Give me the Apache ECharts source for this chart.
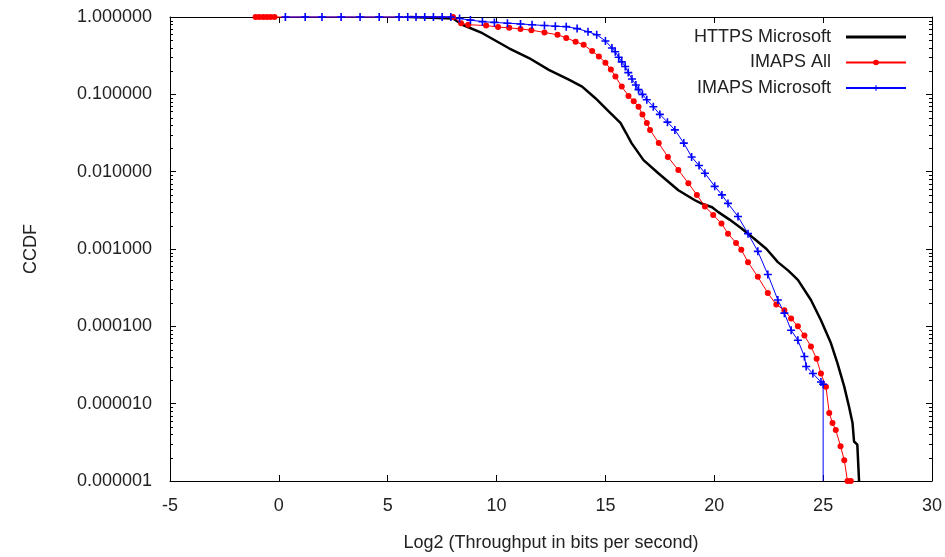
<!DOCTYPE html>
<html><head><meta charset="utf-8">
<script src="https://cdn.jsdelivr.net/npm/echarts@6/dist/echarts.min.js"></script>
<style>html,body{margin:0;padding:0;background:#fff}#c{width:945px;height:557px}</style>
</head><body><div id="c"></div>
<script>
// ---- data ----
const xMin = -5, xMax = 30, yMin = 1e-6, yMax = 1;
const xTickStep = 5;
const seriesNames = ['HTTPS Microsoft', 'IMAPS All', 'IMAPS Microsoft'];

const httpsX = [6.0, 8.0, 8.43, 9.35, 10.57, 11.49, 12.4, 13.32, 13.93, 14.54, 15.15, 15.69, 15.95, 16.2, 16.75, 17.43, 18.35, 19.11, 19.4, 19.9, 20.17, 20.7, 21.24, 21.85, 22.4, 22.92, 23.4, 23.84, 24.44, 24.9, 25.36, 25.66, 25.97, 26.19, 26.35, 26.42, 26.57, 26.65];
const httpsY = [1, 0.955, 0.794, 0.617, 0.394, 0.295, 0.207, 0.155, 0.126, 0.0891, 0.0603, 0.0427, 0.0316, 0.0234, 0.0141, 0.00955, 0.00575, 0.00427, 0.00389, 0.00347, 0.00302, 0.0024, 0.00186, 0.00135, 0.001, 0.000676, 0.000525, 0.000398, 0.000219, 0.00012, 0.0000603, 0.0000331, 0.0000166, 0.00000912, 0.00000562, 0.00000324, 0.00000295, 0.000001];

const imapsAllX = [-1.07, -0.9, -0.72, -0.55, -0.38, -0.2, 8.0, 8.37, 8.7, 9.52, 10.07, 10.58, 11.1, 11.6, 12.2, 12.8, 13.2, 13.63, 14.0, 14.39, 14.7, 15.0, 15.25, 15.46, 15.75, 16.06, 16.3, 16.52, 16.7, 16.9, 17.05, 17.45, 17.87, 18.35, 18.81, 19.2, 19.57, 19.95, 20.33, 20.63, 21.0, 21.24, 21.55, 22.0, 22.46, 22.85, 23.22, 23.53, 23.84, 24.14, 24.44, 24.7, 24.9, 25.13, 25.28, 25.43, 25.58, 25.8, 25.97, 26.12, 26.27];
const imapsAllY = [1, 1, 1, 1, 1, 1, 1, 0.832, 0.794, 0.776, 0.741, 0.724, 0.70, 0.676, 0.631, 0.589, 0.537, 0.479, 0.437, 0.363, 0.309, 0.257, 0.209, 0.170, 0.126, 0.0955, 0.0813, 0.0692, 0.055, 0.0427, 0.0347, 0.0234, 0.0155, 0.0105, 0.00708, 0.00501, 0.00355, 0.00275, 0.00214, 0.00158, 0.0012, 0.000977, 0.000676, 0.000437, 0.000269, 0.000191, 0.000162, 0.000126, 0.0001, 0.0000759, 0.000055, 0.000038, 0.0000245, 0.0000166, 0.00000759, 0.00000562, 0.00000457, 0.00000282, 0.00000186, 0.000001, 0.000001];

const imapsMsX = [0.3, 1.21, 1.98, 2.86, 3.73, 4.61, 5.52, 5.92, 6.3, 6.7, 7.1, 7.5, 7.9, 8.3, 8.8, 9.35, 9.9, 10.5, 11.1, 11.63, 12.2, 12.7, 13.2, 13.7, 14.2, 14.6, 15.0, 15.3, 15.45, 15.61, 15.75, 15.91, 16.05, 16.22, 16.4, 16.52, 16.7, 16.9, 17.2, 17.5, 17.85, 18.19, 18.6, 18.96, 19.3, 19.57, 20.02, 20.35, 20.63, 21.09, 21.55, 22.0, 22.46, 22.92, 23.22, 23.53, 23.84, 24.14, 24.22, 24.53, 24.9, 25.0, 25.0];
const imapsMsY = [1, 1, 1, 1, 1, 1, 1, 1, 1, 1, 1, 1, 1, 0.955, 0.912, 0.871, 0.851, 0.832, 0.813, 0.794, 0.776, 0.759, 0.75, 0.708, 0.646, 0.589, 0.49, 0.398, 0.355, 0.302, 0.263, 0.229, 0.191, 0.158, 0.132, 0.115, 0.1, 0.0851, 0.0692, 0.055, 0.0437, 0.0347, 0.0234, 0.0155, 0.012, 0.00955, 0.00646, 0.00501, 0.00389, 0.00263, 0.00158, 0.000933, 0.000468, 0.000219, 0.000148, 0.0000891, 0.0000661, 0.0000407, 0.0000302, 0.0000245, 0.0000191, 0.0000178, 0.000001];

const minorMultipliers = [2, 3, 4, 5, 6, 7, 8, 9];

// ---- build ----
const pairs = (xs, ys) => xs.map((x, i) => [x, ys[i]]);
const minorVals = [];
for (let e = -6; e < 0; e++) minorMultipliers.forEach(m => minorVals.push(m * Math.pow(10, e)));

const msData = pairs(imapsMsX, imapsMsY).map((p, i, a) => i === a.length - 1 ? { value: p, symbol: 'none' } : p);

const font = 'Liberation Sans, Arial, sans-serif';
const txt = '#222';
const plusPath = 'path://M4,0h2v4h4v2h-4v4h-2v-4h-4v-2h4z';
const barPath = 'path://M0,0h60v3h-60z';

const mkLine = () => ({ show: true, onZero: false, lineStyle: { color: '#000', width: 1 } });
const mkTick = () => ({ show: true, inside: true, length: 6, lineStyle: { color: '#000', width: 1 } });

const chart = echarts.init(document.getElementById('c'));
chart.setOption({
  animation: false,
  backgroundColor: '#fff',
  grid: { left: 170, right: 12, top: 17, bottom: 76 },
  legend: {
    data: [
      { name: seriesNames[0], icon: barPath },
      { name: seriesNames[1] },
      { name: seriesNames[2] }
    ],
    orient: 'vertical', align: 'right', right: 33, top: 23,
    itemWidth: 60, itemHeight: 7, itemGap: 7.5,
    textStyle: { fontFamily: font, fontSize: 18, color: txt, padding: [0, 10, 0, 0] }
  },
  xAxis: [{
    type: 'value', min: xMin, max: xMax, interval: xTickStep, position: 'bottom',
    axisLine: mkLine(), axisTick: mkTick(),
    axisLabel: { fontFamily: font, fontSize: 18, color: txt, margin: 16 },
    splitLine: { show: false },
    name: 'Log2 (Throughput in bits per second)', nameLocation: 'middle', nameGap: 53,
    nameTextStyle: { fontFamily: font, fontSize: 18, color: txt }
  }, {
    type: 'value', min: xMin, max: xMax, interval: xTickStep, position: 'top',
    axisLine: mkLine(), axisTick: mkTick(),
    axisLabel: { show: false }, splitLine: { show: false }
  }],
  yAxis: [{
    type: 'log', logBase: 10, min: yMin, max: yMax, interval: 1, position: 'left',
    axisLine: mkLine(), axisTick: mkTick(),
    axisLabel: { fontFamily: font, fontSize: 18, color: txt, margin: 18, formatter: v => Number(v).toFixed(6) },
    splitLine: { show: false },
    name: 'CCDF', nameLocation: 'middle', nameGap: 130, nameRotate: 90,
    nameTextStyle: { fontFamily: font, fontSize: 18, color: txt }
  }, {
    type: 'log', logBase: 10, min: yMin, max: yMax, interval: 1, position: 'right',
    axisLine: mkLine(), axisTick: mkTick(),
    axisLabel: { show: false }, splitLine: { show: false }
  }],
  series: [
    {
      name: seriesNames[0], type: 'line', data: pairs(httpsX, httpsY),
      showSymbol: false, symbol: 'none', clip: false,
      lineStyle: { color: '#000', width: 2.5 }, itemStyle: { color: '#000' }
    },
    {
      name: seriesNames[1], type: 'line', data: pairs(imapsAllX, imapsAllY),
      symbol: 'circle', symbolSize: 6, showAllSymbol: true, clip: false,
      lineStyle: { color: '#ff0000', width: 1 }, itemStyle: { color: '#ff0000' }
    },
    {
      name: seriesNames[2], type: 'line', data: msData,
      symbol: plusPath, symbolSize: 8, showAllSymbol: true, clip: false,
      lineStyle: { color: '#0000ff', width: 1 }, itemStyle: { color: '#0000ff' }
    },
    {
      name: 'minorTicks', type: 'custom', silent: true,
      data: minorVals.map(v => [xMin, v]),
      encode: { x: 0, y: 1 },
      renderItem: (params, api) => {
        const v = api.value(1);
        const pl = api.coord([xMin, v]);
        const pr = api.coord([xMax, v]);
        const y = Math.round(pl[1]) + 0.5;
        return { type: 'group', children: [
          { type: 'line', shape: { x1: pl[0], y1: y, x2: pl[0] + 3, y2: y }, style: { stroke: '#000', lineWidth: 1 } },
          { type: 'line', shape: { x1: pr[0], y1: y, x2: pr[0] - 3, y2: y }, style: { stroke: '#000', lineWidth: 1 } }
        ] };
      }
    }
  ]
});
</script>
</body></html>
